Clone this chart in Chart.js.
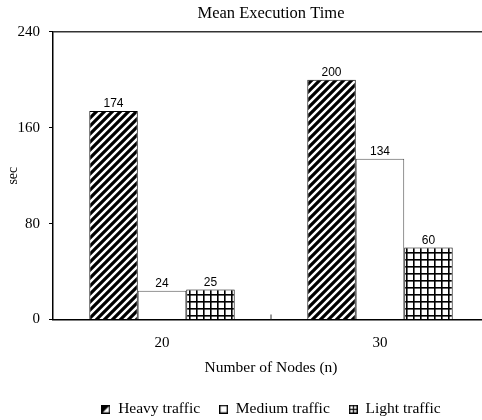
<!DOCTYPE html>
<html>
<head>
<meta charset="utf-8">
<script src="https://cdn.jsdelivr.net/npm/chart.js@4/dist/chart.umd.min.js"></script>
<style>
  html, body { margin: 0; padding: 0; background: #fff; overflow: hidden; }
  #wrap { width: 490px; height: 420px; }
</style>
</head>
<body>
<div id="wrap"><canvas id="chart"></canvas></div>
<script>
// data
const nodes = ['20', '30'];
const seriesNames = ['Heavy traffic', 'Medium traffic', 'Light traffic'];
const heavy = [174, 200];
const medium = [24, 134];
const light = [25, 60];
const yTicks = [0, 80, 160, 240];

function stripePattern() {
    const c = document.createElement('canvas');
    c.width = 8; c.height = 8;
    const g = c.getContext('2d');
    g.fillStyle = '#fff';
    g.fillRect(0, 0, 8, 8);
    g.strokeStyle = '#000';
    g.lineWidth = 3.2;
    g.beginPath();
    g.moveTo(-2, 10); g.lineTo(10, -2);
    g.moveTo(-6, 6); g.lineTo(6, -6);
    g.moveTo(2, 14); g.lineTo(14, 2);
    g.stroke();
    return g.createPattern(c, 'repeat');
}

function gridPattern() {
    const c = document.createElement('canvas');
    c.width = 7; c.height = 7;
    const g = c.getContext('2d');
    g.fillStyle = '#fff';
    g.fillRect(0, 0, 7, 7);
    g.fillStyle = '#000';
    g.fillRect(0, 0, 7, 1.6);
    g.fillRect(0, 0, 1.6, 7);
    return g.createPattern(c, 'repeat');
}

// little legend icons like the original
function legendIcon(kind) {
    const c = document.createElement('canvas');
    c.width = 9; c.height = 9;
    const g = c.getContext('2d');
    g.fillStyle = '#fff';
    g.fillRect(0, 0, 9, 9);
    g.fillStyle = '#000';
    if (kind === 0) {
        g.beginPath();
        g.moveTo(0, 9); g.lineTo(0, 0); g.lineTo(9, 0);
        g.closePath();
        g.fill();
    }
    if (kind === 2) {
        g.fillRect(4, 0, 1.2, 9);
        g.fillRect(0, 4, 9, 1.2);
    }
    g.strokeStyle = '#000';
    g.lineWidth = 1.4;
    g.strokeRect(0.7, 0.7, 7.6, 7.6);
    return c;
}

// value labels above each bar
const valueLabels = {
    id: 'valueLabels',
    afterDatasetsDraw(chart) {
        const ctx = chart.ctx;
        ctx.save();
        ctx.font = '12px "Liberation Sans", Arial, sans-serif';
        ctx.fillStyle = '#000';
        ctx.textAlign = 'center';
        ctx.textBaseline = 'bottom';
        chart.data.datasets.forEach((ds, i) => {
            chart.getDatasetMeta(i).data.forEach((bar, j) => {
                ctx.fillText(ds.data[j], bar.x, bar.y - 1);
            });
        });
        ctx.restore();
    }
};

// top frame line, inward tick between the groups, title/legend centred on plot
const frame = {
    id: 'frame',
    afterLayout(chart) {
        const a = chart.chartArea;
        chart.legend.left = a.left;
        chart.legend.right = a.right;
        if (chart.titleBlock) {
            chart.titleBlock.left = a.left;
            chart.titleBlock.right = a.right;
        }
    },
    afterDraw(chart) {
        const a = chart.chartArea;
        const ctx = chart.ctx;
        ctx.save();
        ctx.strokeStyle = '#333';
        ctx.lineWidth = 1.5;
        ctx.beginPath();
        ctx.moveTo(a.left, a.top);
        ctx.lineTo(a.right, a.top);
        ctx.stroke();
        const mid = (a.left + a.right) / 2;
        ctx.lineWidth = 1;
        ctx.beginPath();
        ctx.moveTo(mid, a.bottom);
        ctx.lineTo(mid, a.bottom - 5);
        ctx.stroke();
        ctx.restore();
    }
};

const serif = '"Liberation Serif", "Times New Roman", serif';
const icons = [legendIcon(0), legendIcon(1), legendIcon(2)];

new Chart(document.getElementById('chart').getContext('2d'), {
    type: 'bar',
    data: {
        labels: nodes,
        datasets: [
            { label: seriesNames[0], data: heavy, backgroundColor: stripePattern(), borderColor: '#000', borderWidth: 1 },
            { label: seriesNames[1], data: medium, backgroundColor: '#fff', borderColor: '#555', borderWidth: 1 },
            { label: seriesNames[2], data: light, backgroundColor: gridPattern(), borderColor: '#000', borderWidth: 1 }
        ]
    },
    options: {
        responsive: true,
        maintainAspectRatio: false,
        animation: false,
        layout: { padding: { left: 0, right: 1, top: 0, bottom: -7 } },
        datasets: { bar: { barPercentage: 1, categoryPercentage: 0.667 } },
        plugins: {
            title: {
                display: true,
                text: 'Mean Execution Time',
                color: '#000',
                font: { family: serif, size: 16.5, weight: 'normal' },
                padding: { top: 4, bottom: 8 }
            },
            legend: {
                position: 'bottom',
                labels: {
                    color: '#000',
                    font: { family: serif, size: 15.5 },
                    usePointStyle: true,
                    boxWidth: 9,
                    boxHeight: 9,
                    padding: 19,
                    generateLabels(chart) {
                        return chart.data.datasets.map((ds, i) => ({
                            text: ds.label,
                            pointStyle: icons[i],
                            fillStyle: '#fff',
                            strokeStyle: '#000',
                            lineWidth: 0,
                            datasetIndex: i,
                            fontColor: '#000'
                        }));
                    }
                }
            },
            tooltip: { enabled: false }
        },
        scales: {
            x: {
                grid: { display: false, drawTicks: false },
                border: { color: '#000', width: 1.5 },
                ticks: { color: '#000', font: { family: serif, size: 15 }, padding: 15 },
                title: {
                    display: true,
                    text: 'Number of Nodes (n)',
                    color: '#000',
                    font: { family: serif, size: 15.5 },
                    padding: { top: 4, bottom: 5 }
                },
                afterFit(scale) { scale.height = 63; }
            },
            y: {
                min: 0,
                max: 240,
                afterBuildTicks(scale) { scale.ticks = yTicks.map(v => ({ value: v })); },
                grid: { drawOnChartArea: false, tickLength: 4, color: '#000' },
                border: { color: '#000', width: 1.5 },
                ticks: { color: '#000', font: { family: serif, size: 15 }, padding: 9 },
                title: {
                    display: true,
                    text: 'sec',
                    color: '#000',
                    font: { family: serif, size: 14 },
                    padding: { top: 5, bottom: 0 }
                },
                afterFit(scale) { scale.width = 53; }
            }
        }
    },
    plugins: [valueLabels, frame]
});
</script>
</body>
</html>
